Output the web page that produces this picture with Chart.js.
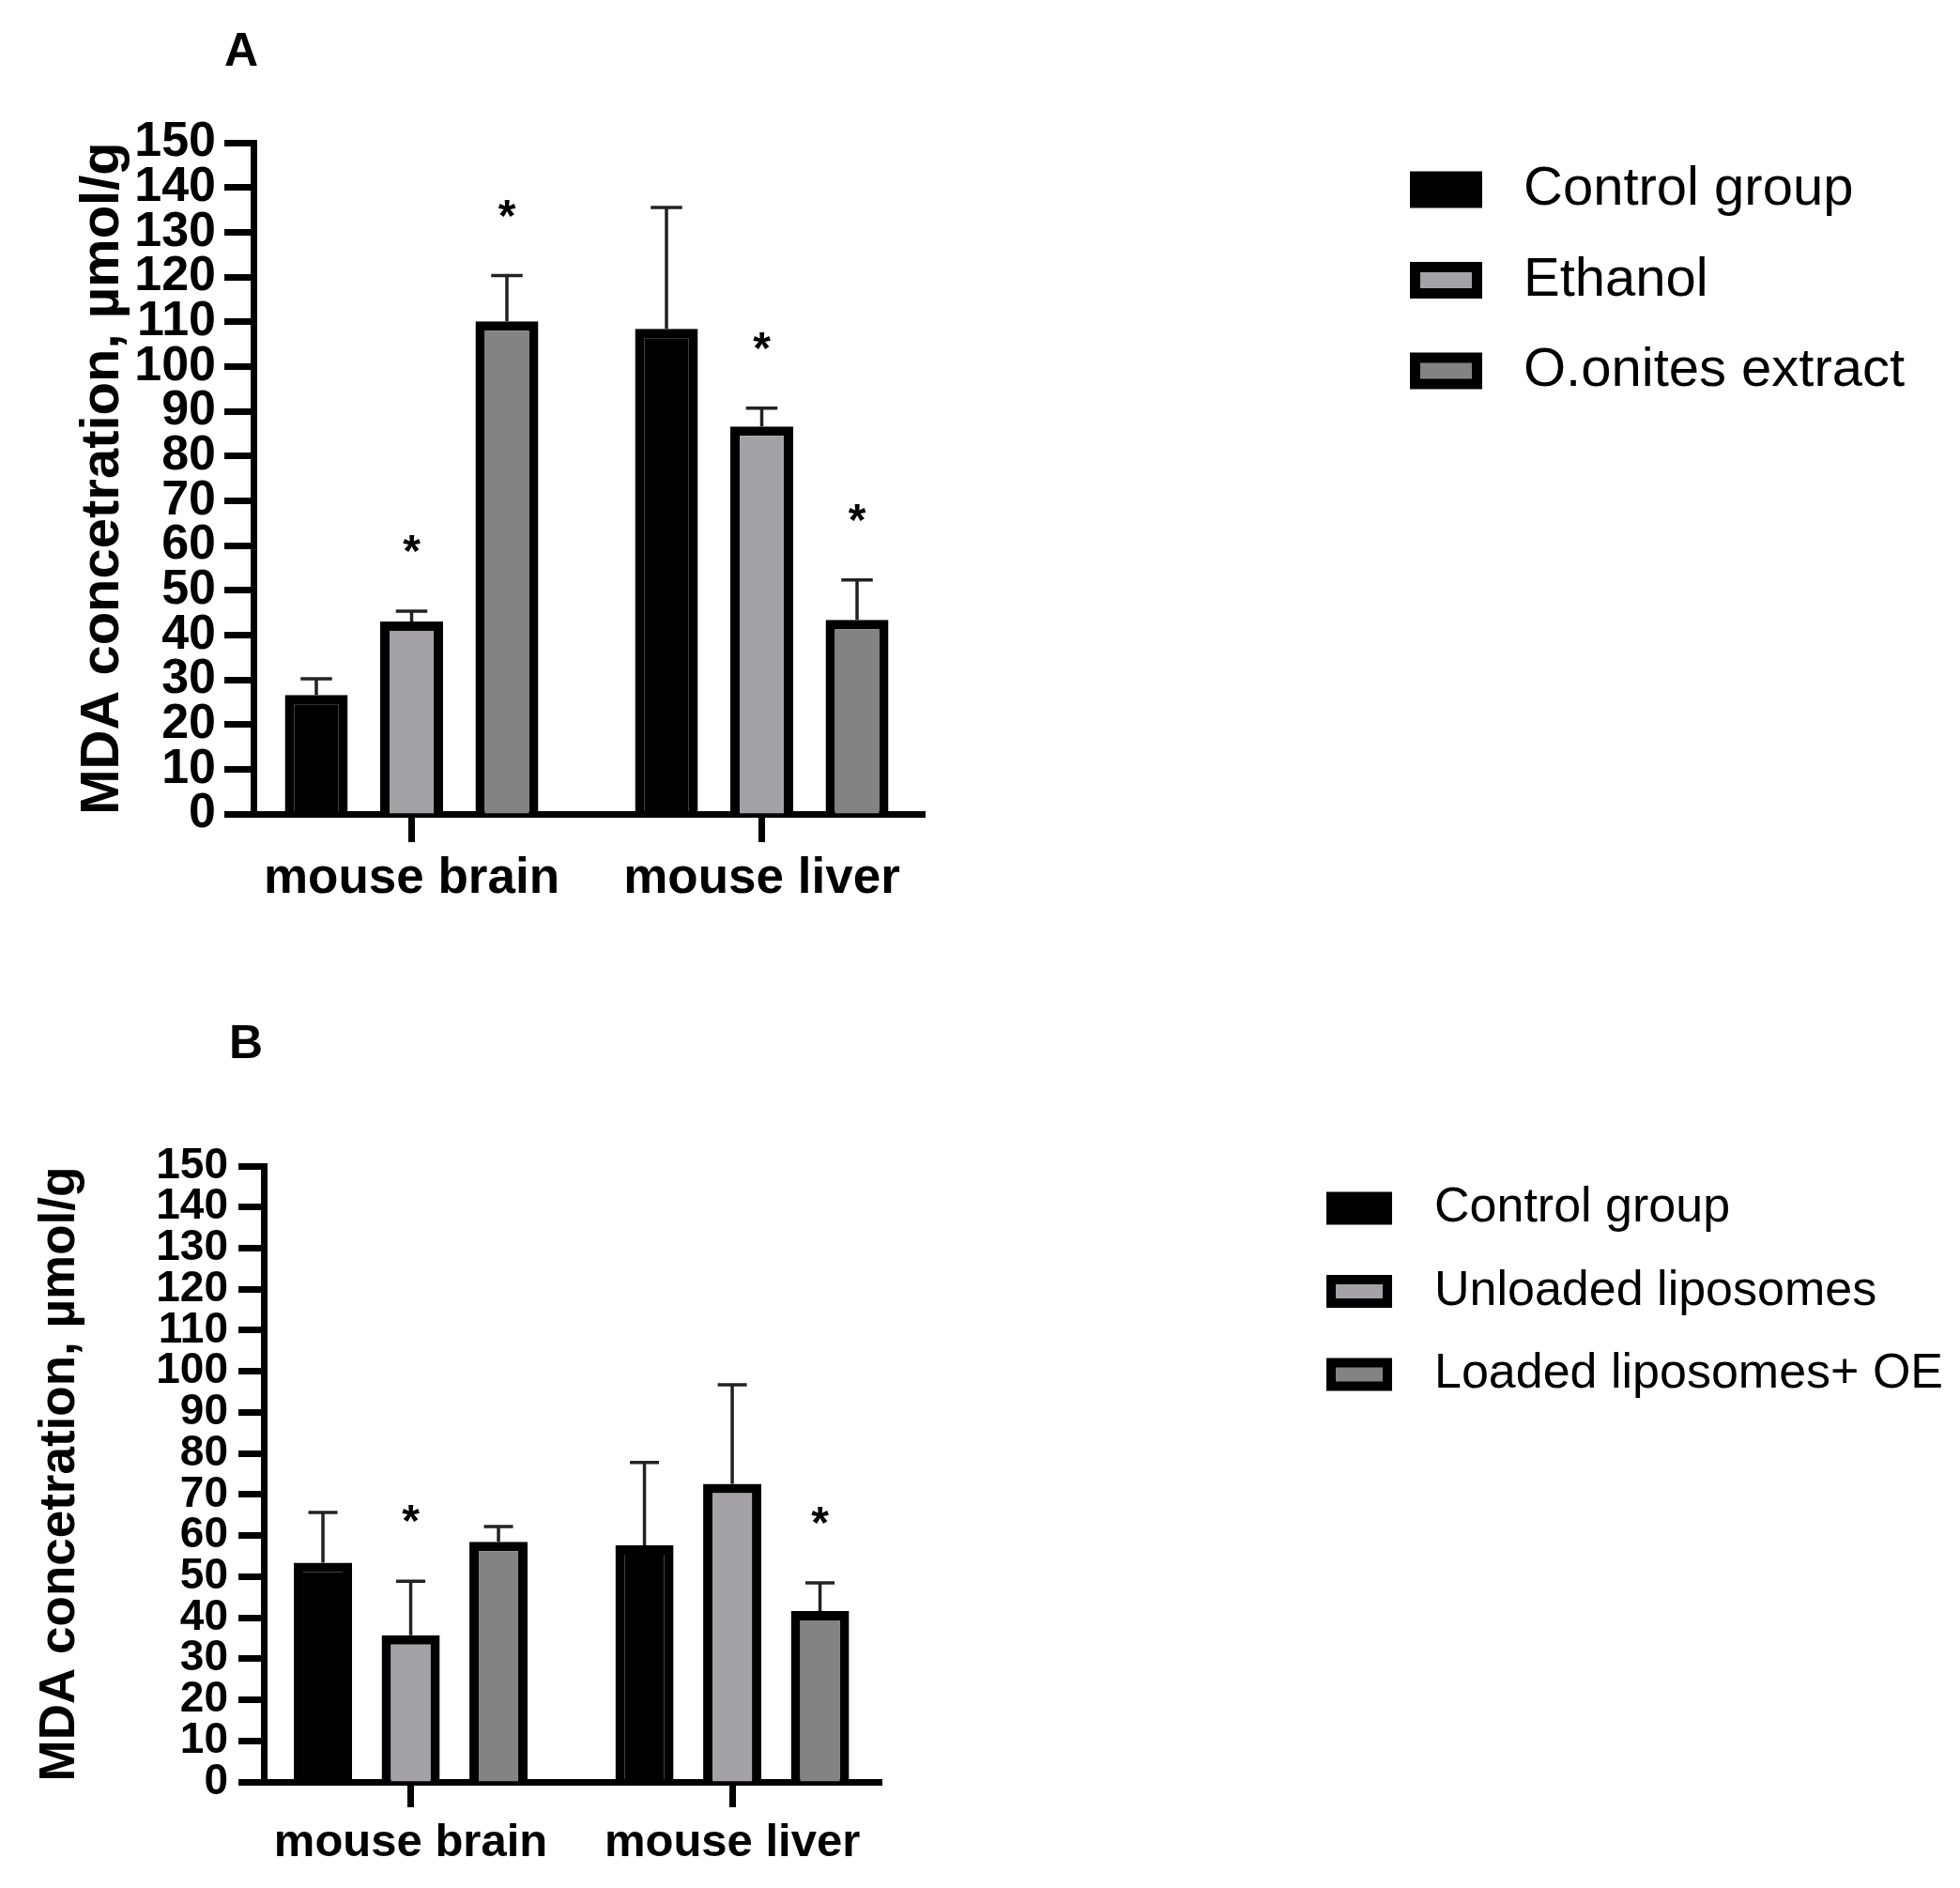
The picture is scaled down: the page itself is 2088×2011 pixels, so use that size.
<!DOCTYPE html>
<html>
<head>
<meta charset="utf-8">
<script src="https://cdn.jsdelivr.net/npm/chart.js@4.4.1/dist/chart.umd.min.js"></script>
<style>
html, body { margin: 0; padding: 0; background: #fff; width: 2088px; height: 2011px; overflow: hidden; }
canvas { position: absolute; left: 0; }
#cA { top: 0; }
#cB { top: 1000px; }
</style>
</head>
<body>
<canvas id="cA" width="2088" height="1000" style="width:2088px;height:1000px"></canvas>
<canvas id="cB" width="2088" height="1011" style="width:2088px;height:1011px"></canvas>
<script>
// ---------- data ----------
const categories = ['mouse brain', 'mouse liver'];
const yMin = 0, yMax = 150, yStep = 10;
const yTitle = 'MDA concetration, µmol/g';

// Panel A
const seriesA = ['Control group', 'Ethanol', 'O.onites extract'];
const controlA = [26.6, 108.4];
const controlA_sd = [3.6, 27.1];
const ethanolA = [43.0, 86.6];
const ethanolA_sd = [2.3, 4.1];
const onitesA = [110.1, 43.4];
const onitesA_sd = [10.2, 8.9];
const controlA_sig = ['', ''];
const ethanolA_sig = ['*', '*'];
const onitesA_sig = ['*', '*'];

// Panel B
const seriesB = ['Control group', 'Unloaded liposomes', 'Loaded liposomes+ OE'];
const controlB = [53.4, 57.6];
const controlB_sd = [12.2, 20.2];
const unloadedB = [35.7, 72.6];
const unloadedB_sd = [13.2, 24.1];
const loadedB = [58.5, 41.6];
const loadedB_sd = [3.7, 6.9];
const controlB_sig = ['', ''];
const unloadedB_sig = ['*', ''];
const loadedB_sig = ['', '*'];

// ---------- styling ----------
const FONT = "'Liberation Sans', Arial, Helvetica, sans-serif";
Chart.defaults.font.family = FONT;
Chart.defaults.color = '#000';
const fills = ['#000000', '#a4a2a7', '#838383'];

const extrasPlugin = {
  id: 'panelExtras',
  afterDatasetsDraw(chart, args, opts) {
    const ctx = chart.ctx;
    const ys = chart.scales.y;
    ctx.save();
    chart.data.datasets.forEach((ds, di) => {
      const meta = chart.getDatasetMeta(di);
      meta.data.forEach((bar, i) => {
        const v = ds.data[i].y;
        const yt = ys.getPixelForValue(v + ds.errors[i]);
        const half = bar.width / 4;
        ctx.strokeStyle = '#222';
        ctx.lineWidth = opts.errWidth;
        ctx.lineCap = 'butt';
        ctx.beginPath();
        ctx.moveTo(bar.x, bar.y);
        ctx.lineTo(bar.x, yt);
        ctx.moveTo(bar.x - half, yt);
        ctx.lineTo(bar.x + half, yt);
        ctx.stroke();
        if (ds.sig[i]) {
          ctx.fillStyle = '#000';
          ctx.font = opts.starFont;
          ctx.textAlign = 'center';
          ctx.textBaseline = 'alphabetic';
          ctx.fillText(ds.sig[i], bar.x, yt - opts.starGap);
        }
      });
    });
    // panel letter
    ctx.fillStyle = '#000';
    ctx.font = opts.letterFont;
    ctx.textAlign = 'left';
    ctx.textBaseline = 'alphabetic';
    ctx.fillText(opts.letter, opts.letterX, opts.letterY);
    // legend
    const L = opts.legend;
    chart.data.datasets.forEach((ds, di) => {
      const cy = L.y0 + di * L.dy;
      ctx.fillStyle = '#000';
      ctx.fillRect(L.x, cy - L.h / 2, L.w, L.h);
      if (ds.backgroundColor !== '#000000') {
        ctx.fillStyle = ds.backgroundColor;
        ctx.fillRect(L.x + L.b, cy - L.h / 2 + L.b, L.w - 2 * L.b, L.h - 2 * L.b);
      }
      ctx.fillStyle = '#000';
      ctx.font = L.font;
      ctx.textAlign = 'left';
      ctx.textBaseline = 'middle';
      ctx.fillText(ds.label, L.tx, cy);
    });
    ctx.restore();
  }
};

function buildDatasets(names, means, sds, sigs, p) {
  return names.map((n, k) => ({
    label: n,
    data: categories.map((c, i) => ({ x: i, y: means[k][i] })),
    errors: sds[k],
    sig: sigs[k],
    backgroundColor: fills[k],
    borderColor: '#000',
    borderWidth: p.bw,
    borderSkipped: 'start',
    categoryPercentage: p.catPct,
    barPercentage: p.barPct
  }));
}

function makeChart(canvasId, datasets, p) {
  return new Chart(document.getElementById(canvasId), {
    type: 'bar',
    data: { datasets },
    plugins: [extrasPlugin],
    options: {
      responsive: false,
      animation: false,
      layout: { padding: { left: 0, top: p.top, right: p.right, bottom: 0 } },
      plugins: {
        legend: { display: false },
        tooltip: { enabled: false },
        panelExtras: p.extras
      },
      scales: {
        x: {
          type: 'linear',
          bounds: 'data',
          min: p.xMin,
          max: p.xMax,
          offset: false,
          afterBuildTicks: s => { s.ticks = categories.map((c, i) => ({ value: i })); },
          afterFit: s => { s.height = p.xH; },
          grid: { offset: false, drawOnChartArea: false, drawTicks: true, tickLength: p.xTickLen, tickWidth: 7, tickColor: '#000' },
          border: { display: true, color: '#000', width: 7 },
          ticks: {
            autoSkip: false, maxRotation: 0, minRotation: 0, includeBounds: false,
            padding: p.xPad, color: '#000',
            font: { family: FONT, size: p.xFont, weight: 'bold' },
            callback: v => (categories[v] !== undefined ? categories[v] : '')
          }
        },
        y: {
          min: yMin, max: yMax,
          afterFit: s => { s.width = p.yW; },
          grid: { drawOnChartArea: false, drawTicks: true, tickLength: p.yTickLen, tickWidth: 7, tickColor: '#000' },
          border: { display: true, color: '#000', width: 7 },
          ticks: {
            stepSize: yStep, autoSkip: false, padding: p.yPad, color: '#000',
            font: { family: FONT, size: p.yFont, weight: 'bold' }
          },
          title: {
            display: true, text: yTitle, color: '#000',
            font: { family: FONT, size: p.tFont, weight: 'bold' },
            padding: { top: p.tPad, bottom: 0 }
          }
        }
      }
    }
  });
}

const pA = {
  top: 152, right: 2088 - 985, yW: 270, xH: 133,
  xMin: -0.4517, xMax: 1.4651,
  catPct: 0.8164, barPct: 0.66, bw: 10,
  xTickLen: 30, xPad: 8, xFont: 53,
  yTickLen: 31, yPad: 9, yFont: 52,
  tFont: 58, tPad: 75,
  extras: {
    errWidth: 3.5, starFont: 'bold 48px ' + FONT, starGap: 48,
    letter: 'A', letterFont: 'bold 50px ' + FONT, letterX: 239, letterY: 70,
    legend: { x: 1502, w: 77, h: 39, b: 11, y0: 202, dy: 96.5, tx: 1623, font: '58px ' + FONT }
  }
};

const pB = {
  top: 242, right: 2088 - 939, yW: 281, xH: 113,
  xMin: -0.457, xMax: 1.464,
  catPct: 0.819, barPct: 0.663, bw: 10,
  xTickLen: 27, xPad: 9, xFont: 49,
  yTickLen: 27, yPad: 11, yFont: 46,
  tFont: 53, tPad: 33,
  extras: {
    errWidth: 3.5, starFont: 'bold 48px ' + FONT, starGap: 48,
    letter: 'B', letterFont: 'bold 50px ' + FONT, letterX: 244, letterY: 127,
    legend: { x: 1413, w: 70, h: 35, b: 10, y0: 287, dy: 88.5, tx: 1528, font: '52px ' + FONT }
  }
};

makeChart('cA', buildDatasets(seriesA,
  [controlA, ethanolA, onitesA],
  [controlA_sd, ethanolA_sd, onitesA_sd],
  [controlA_sig, ethanolA_sig, onitesA_sig], pA), pA);

makeChart('cB', buildDatasets(seriesB,
  [controlB, unloadedB, loadedB],
  [controlB_sd, unloadedB_sd, loadedB_sd],
  [controlB_sig, unloadedB_sig, loadedB_sig], pB), pB);
</script>
</body>
</html>
